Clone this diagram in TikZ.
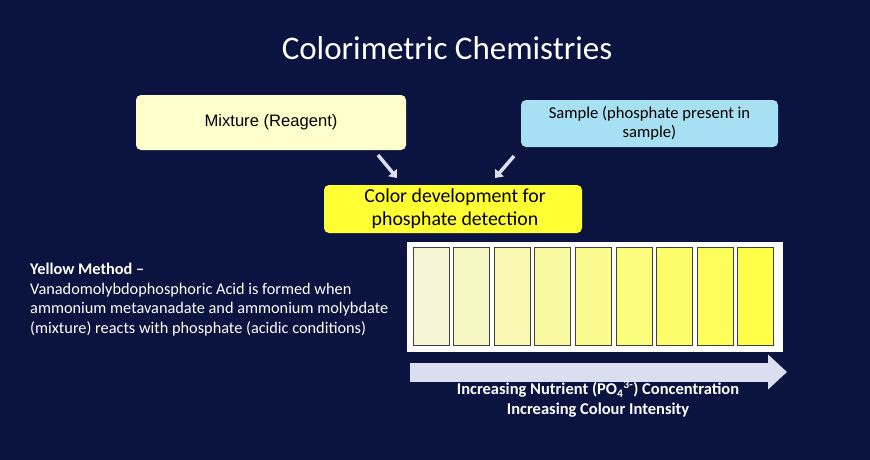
\documentclass[tikz,border=0pt]{standalone}
\usepackage{fontspec}
\setmainfont{Carlito}
\newfontfamily\arialfont{Liberation Sans}
\usetikzlibrary{arrows.meta}
\usetikzlibrary{positioning}
\definecolor{navy}{RGB}{11,20,64}
\definecolor{reagentfill}{RGB}{255,255,204}
\definecolor{samplefill}{RGB}{166,224,242}
\definecolor{devfill}{RGB}{255,255,51}
\definecolor{arrowgrey}{RGB}{218,222,240}
\definecolor{palestrip}{RGB}{246,246,214}
\definecolor{fullstrip}{RGB}{255,255,72}
\tikzset{
    box/.style={rounded corners=5pt, align=center, inner sep=0pt},
    feed/.style={arrowgrey, line width=3.5pt, -{Triangle[width=11pt,length=7pt]}},
    strip/.style={draw=black!75, line width=1pt},
}
\begin{document}
\begin{tikzpicture}[x=1pt,y=-1pt]
    \fill[navy] (0,0) rectangle (870,460);
    \useasboundingbox (0,0) rectangle (870,460);
    \node[white, font=\fontsize{33}{38}\selectfont] (title) at (447,48) {Colorimetric Chemistries};
    \node[box, fill=reagentfill, minimum width=270pt, minimum height=55pt, font=\arialfont\fontsize{16.6}{19}\selectfont] (mix) at (271,122.5) {Mixture (Reagent)};
    \node[box, fill=samplefill, minimum width=257pt, minimum height=47pt, font=\fontsize{16.6}{19}\selectfont] (sample) at (649.5,123.5) {\raisebox{-2pt}{Sample (phosphate present in}\\\raisebox{-2pt}{sample)}};
    \node[box, fill=devfill, minimum width=258pt, minimum height=48pt, font=\fontsize{19.8}{23}\selectfont] (dev) at (453,209) {\hspace{4pt}\raisebox{-1pt}{Color development for}\\\hspace{4pt}\raisebox{-1pt}{phosphate detection}};
    \coordinate (mixend) at (378,155);
    \coordinate (devleft) at (397,178);
    \coordinate (sampleend) at (514,156);
    \coordinate (devright) at (495,178);
    \draw[feed] (mixend) -- (devleft);
    \draw[feed] (sampleend) -- (devright);
    % colour strips
    \node[fill=white, minimum width=376pt, minimum height=110pt, inner sep=0pt] (frame) at (594.5,297) {};
    \foreach \i in {0,...,8} {
        \pgfmathsetmacro{\p}{100-\i*12.5}
        \node[strip, fill=palestrip!\p!fullstrip, minimum width=36pt, minimum height=98pt, inner sep=0pt] (s\i) at (431+\i*40.6,296) {};
    }
    \coordinate (arrL) at (410,372);
    \coordinate (arrR) at (787,372);
    \draw[arrowgrey, line width=19pt, -{Triangle[width=34pt,length=19pt]}] (arrL) -- (arrR);
    \node[white, align=center, font=\bfseries\fontsize{16.5}{20}\selectfont, inner sep=0pt] (incr) at (598,399) {Increasing Nutrient (PO\textsubscript{4}\textsuperscript{3-}) Concentration\\Increasing Colour Intensity};
    \node[white, align=left, anchor=north west, inner sep=0pt, font=\fontsize{16.3}{19.6}\selectfont] (method) at (30,263) {\textbf{Yellow Method --}\\Vanadomolybdophosphoric Acid is formed when\\ammonium metavanadate and ammonium molybdate\\(mixture) reacts with phosphate (acidic conditions)};
\end{tikzpicture}
\end{document}
